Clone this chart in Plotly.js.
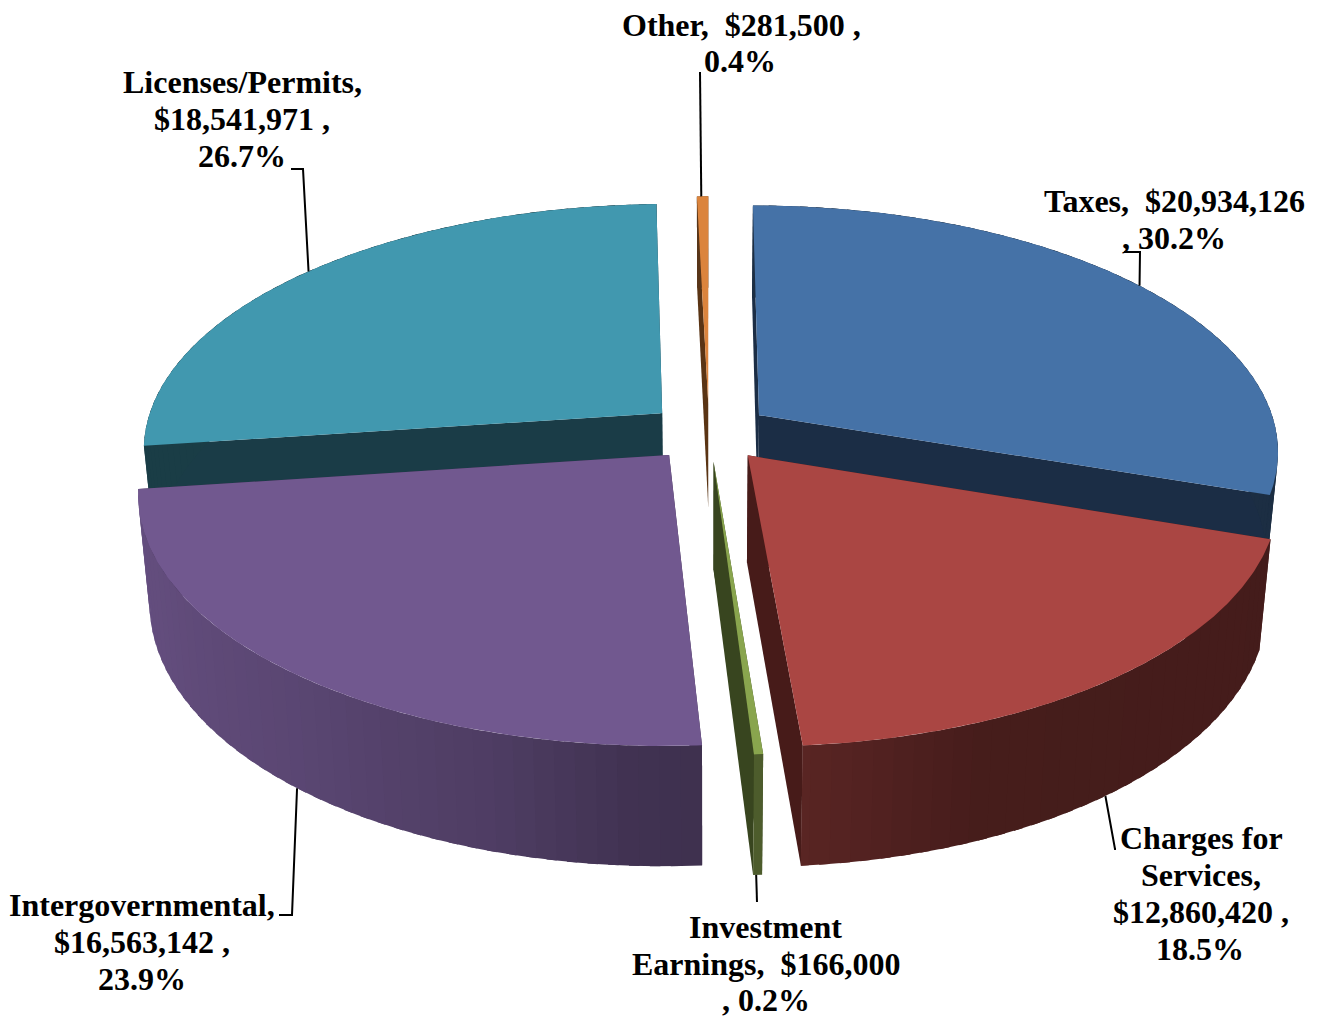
<!DOCTYPE html>
<html>
<head>
<meta charset="utf-8">
<script src="https://cdn.plot.ly/plotly-3.0.1.min.js"></script>
<style>html,body{margin:0;padding:0;background:#fff}#chart{width:1320px;height:1018px}</style>
</head>
<body>
<div id="chart"></div>
<script>
// Revenue by source, drawn as an exploded perspective pie.
const categories = ["Taxes", "Charges for Services", "Investment Earnings", "Intergovernmental", "Licenses/Permits", "Other"];
const amounts = [20934126, 12860420, 166000, 16563142, 18541971, 281500];
const topColors = ["#4572a7", "#aa4643", "#89a54e", "#71588f", "#4198af", "#db843d"];
const cutColors = ["#1b2d45", "#471b19", "#38451f", "#3a2c4b", "#1a3c47", "#5a3414"];

// Wall brightness stops per slice: [angle in degrees clockwise from north, factor of the top colour]
const wallShades = [
  [[0, 0.40], [360, 0.40]],
  [[100, 0.40], [158, 0.41], [176, 0.53]],
  [[170, 0.56], [180, 0.56]],
  [[176, 0.55], [183, 0.57], [196, 0.69], [219, 0.80], [245, 0.87], [265, 0.89]],
  [[260, 0.40], [360, 0.40]],
  [[355, 0.40], [360, 0.40]]
];

// Label text, one entry per line, centred at [x, y] in page pixels
const labelLines = [
  ["Taxes,\u00a0 $20,934,126", 1174.5, 201], [", 30.2%", 1174, 238],
  ["Charges for", 1201, 838], ["Services,", 1201, 875], ["$12,860,420 ,", 1200.5, 912], ["18.5%", 1200, 949],
  ["Investment", 765.5, 927], ["Earnings,\u00a0 $166,000", 766, 964], [", 0.2%", 765.5, 1000],
  ["Intergovernmental,", 142, 905], ["$16,563,142 ,", 142, 942], ["23.9%", 141.5, 979],
  ["Licenses/Permits,", 242, 82], ["$18,541,971 ,", 242, 119], ["26.7%", 241.5, 156],
  ["Other,\u00a0 $281,500 ,", 741, 25], ["0.4%", 740, 61]
];

// Leader lines: slice index, rim angle, rim level (0 top, 1 bottom), then the elbow points
const leaders = [
  [0, 54.1, 0, [[1140, 252], [1124, 252]]],
  [1, 142.4, 1, [[1115, 849], [1116, 849]]],
  [2, 176.0, 1, [[757, 902]]],
  [3, 219.6, 1, [[292, 915], [279, 915]]],
  [4, 310.5, 0, [[303, 169], [291, 169]]],
  [5, 359.1, 0, [[700, 72]]]
];

// Projection of the pie disc onto the page
const view = {cx: 709, cy: 432, rx: 518, ry: 243.4, persp: 0.14, explode: 0.12,
               drop: 106, dropSlope: 13, shrink: 0.98};

const rad = d => d * Math.PI / 180;

function project(X, Y, level) {
  const w = 1 + view.persp * Y;
  let sx = view.cx + view.rx * X / w;
  let sy = view.cy - view.ry * Y / w;
  if (level === 1) {
    sx = view.cx + (sx - view.cx) * view.shrink;
    sy = sy + view.drop - view.dropSlope * Y;
  }
  return [sx, sy];
}

const total = amounts.reduce((a, b) => a + b, 0);
let running = 0;
const slices = amounts.map((v, i) => {
  const a0 = running / total * 360;
  running += v;
  const a1 = running / total * 360;
  const mid = rad((a0 + a1) / 2);
  return {i, a0, a1, ox: view.explode * Math.sin(mid), oy: view.explode * Math.cos(mid)};
});

const rim = (s, deg, level) => project(s.ox + Math.sin(rad(deg)), s.oy + Math.cos(rad(deg)), level);
const apex = (s, level) => project(s.ox, s.oy, level);

function shade(hex, f) {
  const n = parseInt(hex.slice(1), 16);
  return "rgb(" + [(n >> 16) & 255, (n >> 8) & 255, n & 255].map(c => Math.round(c * f)).join(",") + ")";
}

function factorAt(stops, deg) {
  if (deg <= stops[0][0]) return stops[0][1];
  for (let k = 1; k < stops.length; k++) {
    if (deg <= stops[k][0]) {
      const t = (deg - stops[k - 1][0]) / (stops[k][0] - stops[k - 1][0]);
      return stops[k - 1][1] + t * (stops[k][1] - stops[k - 1][1]);
    }
  }
  return stops[stops.length - 1][1];
}

function polygon(points, color, width) {
  const closed = points.concat([points[0]]);
  return {
    type: "scatter", mode: "lines", fill: "toself", fillcolor: color,
    x: closed.map(p => p[0]), y: closed.map(p => p[1]),
    line: {color: color, width: width}, hoverinfo: "skip", showlegend: false
  };
}

function sliceTraces(s) {
  const out = [];
  // cut faces
  [s.a0, s.a1].forEach(a => {
    out.push(polygon([apex(s, 0), rim(s, a, 0), rim(s, a, 1), apex(s, 1)], cutColors[s.i], 0));
  });
  // outer wall in narrow bands; each band runs under the next so no seams show
  const step = 2;
  for (let a = s.a0; a < s.a1; a += step) {
    const b = Math.min(a + step, s.a1);
    const over = Math.min(b + 1, s.a1);
    const arc = [];
    for (let t = a; t < over; t += 0.5) arc.push(t);
    arc.push(over);
    const pts = arc.map(t => rim(s, t, 0)).concat(arc.slice().reverse().map(t => rim(s, t, 1)));
    out.push(polygon(pts, shade(topColors[s.i], factorAt(wallShades[s.i], (a + b) / 2)), 0));
  }
  // top face
  const top = [apex(s, 0)];
  for (let a = s.a0; a < s.a1; a += 0.5) top.push(rim(s, a, 0));
  top.push(rim(s, s.a1, 0));
  out.push(polygon(top, topColors[s.i], 0));
  return out;
}

// Painter's order: rear slices first
const order = [0, 4, 5, 3, 2, 1];
const data = [];
order.forEach(i => sliceTraces(slices[i]).forEach(t => data.push(t)));

leaders.forEach(([idx, deg, level, pts]) => {
  const line = [rim(slices[idx], deg, level)].concat(pts);
  data.push({
    type: "scatter", mode: "lines", x: line.map(p => p[0]), y: line.map(p => p[1]),
    line: {color: "#000", width: 2}, hoverinfo: "skip", showlegend: false
  });
});

const annotations = labelLines.map(([text, x, y]) => ({
  text: "<b>" + text + "</b>", x, y, xref: "x", yref: "y", xanchor: "center", yanchor: "middle", showarrow: false,
  font: {family: "Liberation Serif", size: 32, color: "#000"}
}));

const hidden = {visible: false, fixedrange: true};
Plotly.newPlot("chart", data, {
  width: 1320, height: 1018,
  margin: {l: 0, r: 0, t: 0, b: 0},
  paper_bgcolor: "#fff", plot_bgcolor: "#fff",
  xaxis: Object.assign({range: [0, 1320]}, hidden),
  yaxis: Object.assign({range: [1018, 0]}, hidden),
  showlegend: false,
  annotations
}, {displayModeBar: false, staticPlot: true});
</script>
</body>
</html>
